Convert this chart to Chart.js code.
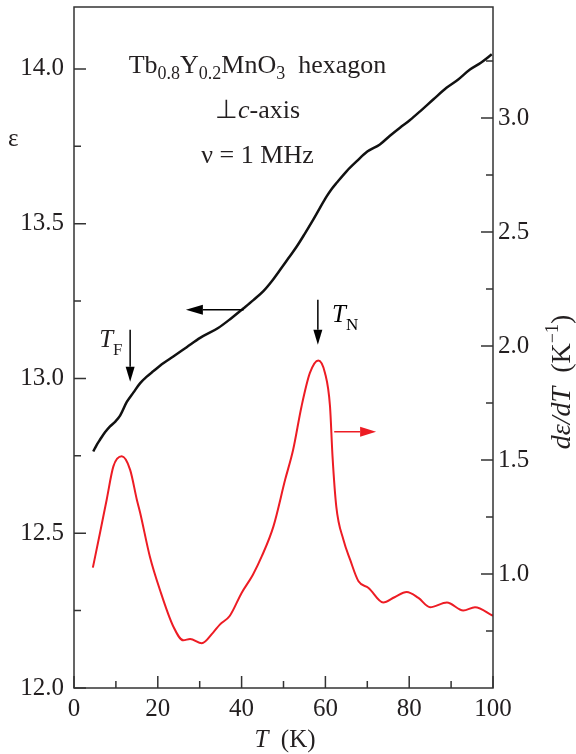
<!DOCTYPE html>
<html>
<head>
<meta charset="utf-8">
<script src="https://cdn.jsdelivr.net/npm/chart.js@4.4.1/dist/chart.umd.min.js"></script>
<style>
  html, body { margin: 0; padding: 0; background: #fff; }
  #wrap { width: 576px; height: 754px; }
</style>
</head>
<body>
<div id="wrap"><canvas id="chart"></canvas></div>
<script>
// epsilon(T), left axis
const epsT = [4.6, 5.4, 6.2, 7.4, 8.6, 9.8, 11.0, 12.6, 14.2, 15.8, 17.3, 18.9, 21.3, 23.7, 26.9,
              30.1, 34.4, 37.4, 40.4, 42.8, 45.2, 47.2, 49.2, 51.2, 53.2, 55.1, 57.1, 58.7,
              60.3, 61.5, 62.7, 65.1, 67.5, 70.0, 73.0, 75.4, 77.8, 80.2, 82.6, 85.8, 88.9,
              91.7, 94.5, 97.1, 99.7];
const epsVals = [12.764, 12.785, 12.802, 12.826, 12.845, 12.860, 12.880, 12.924, 12.955, 12.985,
                 13.005, 13.023, 13.049, 13.071, 13.101, 13.131, 13.163, 13.193, 13.226, 13.253,
                 13.282, 13.314, 13.351, 13.389, 13.427, 13.468, 13.513, 13.551, 13.588, 13.612,
                 13.632, 13.670, 13.702, 13.733, 13.756, 13.784, 13.810, 13.835, 13.863, 13.902,
                 13.939, 13.966, 13.998, 14.020, 14.047];

// d(epsilon)/dT, right axis
const derT = [4.5, 6.2, 7.8, 9.4, 11.4, 13.4, 15.0, 15.8, 18.1, 20.5, 23.7, 26.1, 27.7, 30.5,
              33.2, 34.8, 37.2, 40.0, 42.7, 44.8, 47.6, 50.4, 52.3, 54.3, 56.3, 58.3, 59.9,
              61.1, 61.7, 62.6, 64.3, 65.9, 67.9, 70.3, 73.8, 76.5, 79.4, 82.2, 85.0, 89.0,
              92.9, 95.7, 100];
const derVals = [1.028, 1.18, 1.326, 1.472, 1.516, 1.457, 1.326, 1.268, 1.077, 0.931, 0.770,
                 0.709, 0.715, 0.696, 0.743, 0.778, 0.817, 0.917, 0.997, 1.077, 1.209, 1.414,
                 1.545, 1.735, 1.882, 1.937, 1.882, 1.735, 1.516, 1.296, 1.150, 1.063, 0.968,
                 0.939, 0.875, 0.898, 0.921, 0.895, 0.854, 0.875, 0.840, 0.854, 0.817];

// tick values
const xMajor = [0, 20, 40, 60, 80, 100];
const xMinor = [10, 30, 50, 70, 90];
const epsMajor = [12.0, 12.5, 13.0, 13.5, 14.0];
const epsMinor = [12.25, 12.75, 13.25, 13.75];
const derMajor = [1.0, 1.5, 2.0, 2.5, 3.0];
const derMinor = [0.75, 1.25, 1.75, 2.25, 2.75, 3.25];

const serif = "'Liberation Serif', 'Times New Roman', serif";
const ink = '#231f20';
const red = '#ed1c24';

function setTicks(major, minor) {
    return function (scale) {
        scale.ticks = major.concat(minor).sort((a, b) => a - b).map(v => ({ value: v }));
    };
}

function fixSize(prop, size) {
    return function (scale) {
        scale[prop] = size;
        scale.paddingTop = 0; scale.paddingBottom = 0;
        scale.paddingLeft = 0; scale.paddingRight = 0;
    };
}

// text made of pieces: [text, size, style, dy]
function richText(ctx, parts, x, y, align) {
    let w = 0;
    parts.forEach(p => {
        ctx.font = (p[2] || '') + ' ' + p[1] + 'px ' + serif;
        w += ctx.measureText(p[0]).width;
    });
    let cx = align === 'center' ? x - w / 2 : x;
    parts.forEach(p => {
        ctx.font = (p[2] || '') + ' ' + p[1] + 'px ' + serif;
        ctx.fillText(p[0], cx, y + (p[3] || 0));
        cx += ctx.measureText(p[0]).width;
    });
}

function arrow(ctx, x1, y1, x2, y2, color, headLen, headHalf) {
    const a = Math.atan2(y2 - y1, x2 - x1);
    const bx = x2 - headLen * Math.cos(a), by = y2 - headLen * Math.sin(a);
    ctx.strokeStyle = color;
    ctx.lineWidth = 1.5;
    ctx.beginPath(); ctx.moveTo(x1, y1); ctx.lineTo(bx, by); ctx.stroke();
    ctx.fillStyle = color;
    ctx.beginPath();
    ctx.moveTo(x2, y2);
    ctx.lineTo(bx + headHalf * Math.sin(a), by - headHalf * Math.cos(a));
    ctx.lineTo(bx - headHalf * Math.sin(a), by + headHalf * Math.cos(a));
    ctx.closePath(); ctx.fill();
}

// frame, inward ticks, titles and annotations
const decor = {
    id: 'decor',
    afterDatasetsDraw(chart) {
        const ctx = chart.ctx;
        const a = chart.chartArea;
        const xs = chart.scales.x, ys = chart.scales.y, y1 = chart.scales.y1;
        ctx.save();

        // frame
        ctx.strokeStyle = '#333';
        ctx.lineWidth = 1.5;
        ctx.strokeRect(a.left, a.top, a.right - a.left, a.bottom - a.top);

        // inward ticks
        ctx.beginPath();
        xMajor.forEach(v => { const p = xs.getPixelForValue(v); ctx.moveTo(p, a.bottom); ctx.lineTo(p, a.bottom - 12); });
        xMinor.forEach(v => { const p = xs.getPixelForValue(v); ctx.moveTo(p, a.bottom); ctx.lineTo(p, a.bottom - 7); });
        epsMajor.forEach(v => { const p = ys.getPixelForValue(v); ctx.moveTo(a.left, p); ctx.lineTo(a.left + 12, p); });
        epsMinor.forEach(v => { const p = ys.getPixelForValue(v); ctx.moveTo(a.left, p); ctx.lineTo(a.left + 7, p); });
        derMajor.forEach(v => { const p = y1.getPixelForValue(v); ctx.moveTo(a.right, p); ctx.lineTo(a.right - 12, p); });
        derMinor.forEach(v => { const p = y1.getPixelForValue(v); ctx.moveTo(a.right, p); ctx.lineTo(a.right - 7, p); });
        ctx.stroke();

        ctx.fillStyle = ink;
        ctx.textBaseline = 'alphabetic';

        // axis titles
        richText(ctx, [['ε', 25]], 8, 146, 'left');
        richText(ctx, [['T', 25, 'italic'], ['  (K)', 25]], 285, 747, 'center');
        ctx.save();
        ctx.translate(570, 382);
        ctx.rotate(-Math.PI / 2);
        richText(ctx, [['d', 28, 'italic'], ['ε', 28, 'italic'], ['/', 28, 'italic'], ['d', 28, 'italic'],
                       ['T', 28, 'italic'], ['  (K', 28], ['−1', 18, '', -12], [')', 28]], 0, 0, 'center');
        ctx.restore();

        // sample description
        const cx = xs.getPixelForValue(43.8);
        richText(ctx, [['Tb', 26], ['0.8', 18, '', 6], ['Y', 26], ['0.2', 18, '', 6], ['MnO', 26],
                       ['3', 18, '', 6], ['  hexagon', 26]], cx, ys.getPixelForValue(13.988), 'center');
        richText(ctx, [['⊥', 26], ['c', 26, 'italic'], ['-axis', 26]], cx, ys.getPixelForValue(13.843), 'center');
        richText(ctx, [['ν = 1 MHz', 26]], cx, ys.getPixelForValue(13.697), 'center');

        // transition markers
        richText(ctx, [['T', 25, 'italic'], ['F', 17, '', 8]], xs.getPixelForValue(6.0), ys.getPixelForValue(13.102), 'left');
        arrow(ctx, xs.getPixelForValue(13.4), ys.getPixelForValue(13.157),
              xs.getPixelForValue(13.4), ys.getPixelForValue(12.989), '#000', 15, 4.5);
        richText(ctx, [['T', 25, 'italic'], ['N', 17, '', 8]], xs.getPixelForValue(61.6), ys.getPixelForValue(13.183), 'left');
        arrow(ctx, xs.getPixelForValue(58.2), ys.getPixelForValue(13.254),
              xs.getPixelForValue(58.2), ys.getPixelForValue(13.109), '#000', 15, 4.5);

        // axis pointers
        arrow(ctx, xs.getPixelForValue(40.5), ys.getPixelForValue(13.222),
              xs.getPixelForValue(26.7), ys.getPixelForValue(13.222), '#000', 17, 5);
        arrow(ctx, xs.getPixelForValue(62.1), y1.getPixelForValue(1.624),
              xs.getPixelForValue(72.1), y1.getPixelForValue(1.624), red, 16, 5);

        ctx.restore();
    }
};

const tickFont = { family: serif, size: 25 };

new Chart(document.getElementById('chart'), {
    type: 'line',
    data: {
        datasets: [
            {
                label: 'ε',
                data: epsT.map((t, i) => ({ x: t, y: epsVals[i] })),
                yAxisID: 'y',
                borderColor: '#111',
                borderWidth: 2.5,
                pointRadius: 0,
                cubicInterpolationMode: 'monotone'
            },
            {
                label: 'dε/dT',
                data: derT.map((t, i) => ({ x: t, y: derVals[i] })),
                yAxisID: 'y1',
                borderColor: red,
                borderWidth: 2,
                pointRadius: 0,
                cubicInterpolationMode: 'monotone'
            }
        ]
    },
    options: {
        responsive: true,
        maintainAspectRatio: false,
        animation: false,
        devicePixelRatio: 1,
        layout: { padding: { top: 7, left: 0, right: 0, bottom: 0 } },
        plugins: {
            legend: { display: false },
            tooltip: { enabled: false }
        },
        scales: {
            x: {
                type: 'linear',
                min: 0,
                max: 100,
                afterBuildTicks: setTicks(xMajor, xMinor),
                afterFit: fixSize('height', 66),
                border: { display: false },
                grid: { display: false, drawTicks: false },
                ticks: {
                    color: ink,
                    font: tickFont,
                    padding: 6,
                    autoSkip: false,
                    maxRotation: 0,
                    callback: v => xMajor.includes(v) ? String(v) : ''
                }
            },
            y: {
                position: 'left',
                min: 12.0,
                max: 14.2,
                afterBuildTicks: setTicks(epsMajor, epsMinor),
                afterFit: fixSize('width', 74),
                border: { display: false },
                grid: { display: false, drawTicks: false },
                ticks: {
                    color: ink,
                    font: tickFont,
                    padding: 10,
                    autoSkip: false,
                    callback: v => epsMajor.includes(v) ? v.toFixed(1) : ''
                }
            },
            y1: {
                position: 'right',
                min: 0.5,
                max: 3.487,
                afterBuildTicks: setTicks(derMajor, derMinor),
                afterFit: fixSize('width', 83),
                border: { display: false },
                grid: { display: false, drawTicks: false },
                ticks: {
                    color: ink,
                    font: tickFont,
                    padding: 5,
                    autoSkip: false,
                    callback: v => derMajor.includes(v) ? v.toFixed(1) : ''
                }
            }
        }
    },
    plugins: [decor]
});
</script>
</body>
</html>
